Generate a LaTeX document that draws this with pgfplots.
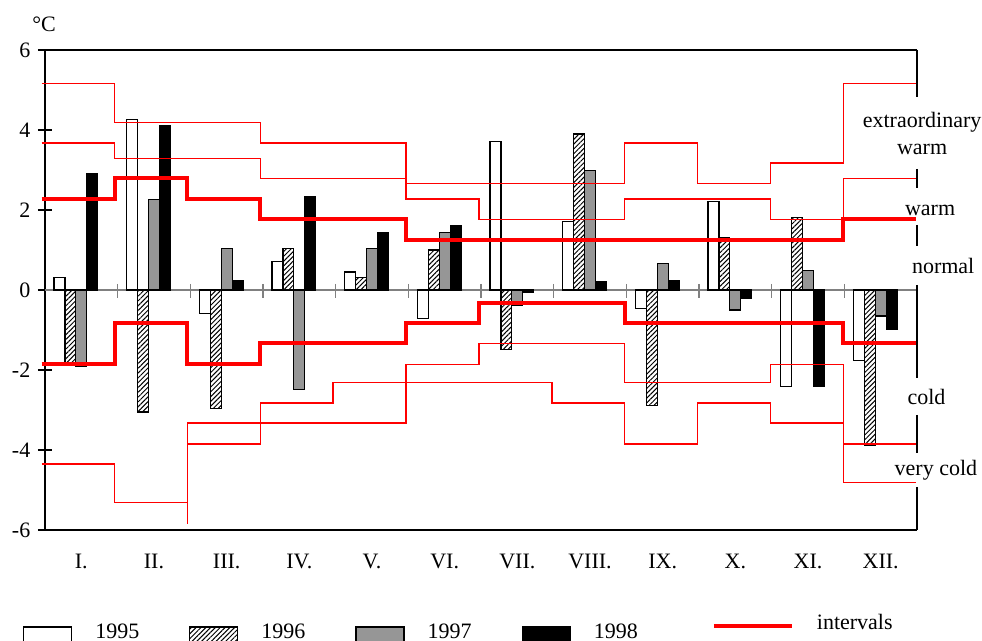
\documentclass[border=0pt]{standalone}
\usepackage{fontspec}
\setmainfont{Liberation Serif}
\usepackage{pgfplots}
\pgfplotsset{compat=1.18}
\usetikzlibrary{patterns.meta}

\definecolor{bargray}{RGB}{150,150,150}
\definecolor{zerogray}{RGB}{128,128,128}

\newcommand{\chartfont}{\fontsize{11pt}{13.5pt}\selectfont}

\pgfplotsset{
  barlegend/.style={legend image code/.code={\draw[##1] (0pt,-5.5pt) rectangle (24pt,3pt);}},
  linelegend/.style={legend image code/.code={\path (0pt,0pt); \draw[##1] (12pt,3.5pt) -- (51pt,3.5pt);}},
}

\begin{document}
\chartfont
\begin{tikzpicture}
\useasboundingbox (-22.5pt,-55.5pt) rectangle (468.5pt,265pt);
\clip (-22.5pt,-55.5pt) rectangle (468.5pt,265pt);
\begin{axis}[
  at={(0pt,0pt)}, anchor=south west,
  scale only axis,
  width=436pt, height=240pt,
  xmin=0.5, xmax=12.5, ymin=-6, ymax=6,
  axis x line=box, axis y line=left,
  axis line style={-, line width=0.9pt},
  clip=false,
  xtick={1,2,3,4,5,6,7,8,9,10,11,12},
  xticklabels={I.,II.,III.,IV.,V.,VI.,VII.,VIII.,IX.,X.,XI.,XII.},
  xtick style={draw=none},
  xticklabel style={font=\chartfont, yshift=-4.8pt},
  ytick={-6,-4,-2,0,2,4,6},
  yticklabels={-6,-4,-2,0,2,4,6},
  ytick style={line width=0.8pt, black},
  tick align=center,
  major tick length=7pt,
  yticklabel style={font=\chartfont},
  legend columns=5,
  legend style={draw=none, fill=none, font=\chartfont,
    at={(0,0)}, anchor=north west, xshift=-11.15pt, yshift=-41.7pt,
    inner sep=0pt,
    nodes={inner sep=0pt},
    /tikz/every odd column/.append style={column sep=11.5pt},
    /tikz/every even column/.append style={column sep=25pt}},
]

% zero line with month separators
\draw[zerogray, line width=0.65pt] (axis cs:0.5,0) -- (axis cs:12.5,0);
\pgfplotsinvokeforeach{1.5,2.5,3.5,4.5,5.5,6.5,7.5,8.5,9.5,10.5,11.5}{
  \draw[zerogray, line width=0.65pt] (axis cs:#1,0) ++(0pt,3pt) -- ++(0pt,-7pt);
}

% monthly temperature deviations
\addplot[ybar, bar width=0.15, bar shift=-0.3, draw=black, fill=white, line width=0.6pt, barlegend]
  coordinates {(1,0.32) (2,4.27) (3,-0.58) (4,0.71) (5,0.45) (6,-0.71)
               (7,3.72) (8,1.71) (9,-0.46) (10,2.22) (11,-2.42) (12,-1.77)};
\addlegendentry{1995}
\addplot[ybar, bar width=0.15, bar shift=-0.15, draw=black, line width=0.6pt,
  pattern={Lines[angle=45, distance=1.7pt, line width=0.5pt]}, barlegend]
  coordinates {(1,-1.88) (2,-3.05) (3,-2.97) (4,1.03) (5,0.32) (6,1.0)
               (7,-1.49) (8,3.9) (9,-2.88) (10,1.31) (11,1.81) (12,-3.88)};
\addlegendentry{1996}
\addplot[ybar, bar width=0.15, bar shift=0, draw=black, fill=bargray, line width=0.6pt, barlegend]
  coordinates {(1,-1.9) (2,2.27) (3,1.03) (4,-2.48) (5,1.03) (6,1.43)
               (7,-0.375) (8,2.99) (9,0.67) (10,-0.5) (11,0.48) (12,-0.65)};
\addlegendentry{1997}
\addplot[ybar, bar width=0.15, bar shift=0.15, draw=black, fill=black, line width=0.6pt, barlegend]
  coordinates {(1,2.92) (2,4.11) (3,0.24) (4,2.33) (5,1.43) (6,1.6)
               (7,-0.07) (8,0.2) (9,0.24) (10,-0.21) (11,-2.42) (12,-0.98)};
\addlegendentry{1998}

% interval boundaries
\addplot[red, line width=2pt, const plot, linelegend]
  coordinates {(0.454,2.27) (1.457,2.79) (2.460,2.27) (3.463,1.77) (4.466,1.77) (5.469,1.25)
               (6.472,1.25) (7.475,1.25) (8.478,1.25) (9.481,1.25) (10.484,1.25) (11.487,1.77) (12.490,1.77)};
\addlegendentry[yshift=5pt]{intervals}
\addplot[red, line width=2pt, const plot, forget plot]
  coordinates {(0.454,-1.85) (1.457,-0.82) (2.460,-1.85) (3.463,-1.33) (4.466,-1.33) (5.469,-0.82)
               (6.472,-0.32) (7.475,-0.32) (8.478,-0.82) (9.481,-0.82) (10.484,-0.82) (11.487,-1.33) (12.490,-1.33)};
\addplot[red, line width=0.7pt, const plot, forget plot]
  coordinates {(0.454,5.16) (1.457,4.18) (2.460,4.18) (3.463,3.675) (4.466,3.675) (5.469,2.66)
               (6.472,2.66) (7.475,2.66) (8.478,3.675) (9.481,2.66) (10.484,3.17) (11.487,5.16) (12.490,5.16)};
\addplot[red, line width=0.7pt, const plot, forget plot]
  coordinates {(0.454,3.675) (1.457,3.29) (2.460,3.29) (3.463,2.78) (4.466,2.78) (5.469,2.27)
               (6.472,1.76) (7.475,1.76) (8.478,2.27) (9.481,2.27) (10.484,1.76) (11.487,2.79) (12.490,2.79)};
\addplot[red, line width=0.7pt, const plot, forget plot]
  coordinates {(0.454,-4.35) (1.457,-5.32) (2.460,-3.85) (3.463,-2.83) (4.466,-2.32) (5.469,-2.32)
               (6.472,-2.32) (7.475,-2.83) (8.478,-3.85) (9.481,-2.83) (10.484,-3.33) (11.487,-4.82) (12.490,-4.82)};
\addplot[red, line width=0.7pt, const plot, forget plot]
  coordinates {(2.460,-5.85) (2.460,-3.33) (3.463,-3.33) (4.466,-3.33) (5.469,-1.86)
               (6.472,-1.34) (7.475,-1.34) (8.478,-2.32) (9.481,-2.32) (10.484,-1.86) (11.487,-3.85) (12.490,-3.85)};

% right frame, interrupted by the class names
\draw[line width=0.9pt] (axis cs:12.5,6) -- (axis cs:12.5,4.83);
\draw[line width=0.9pt] (axis cs:12.5,3.025) -- (axis cs:12.5,2.54);
\draw[line width=0.9pt] (axis cs:12.5,1.625) -- (axis cs:12.5,1.1);
\draw[line width=0.9pt] (axis cs:12.5,0.125) -- (axis cs:12.5,-2.21);
\draw[line width=0.9pt] (axis cs:12.5,-3.125) -- (axis cs:12.5,-4.08);
\draw[line width=0.9pt] (axis cs:12.5,-4.92) -- (axis cs:12.5,-6);

\node[anchor=base, inner sep=0pt] at (axis cs:12.57,4.05) {extraordinary};
\node[anchor=base, inner sep=0pt] at (axis cs:12.57,3.375) {warm};
\node[anchor=base, inner sep=0pt] at (axis cs:12.68,1.87) {warm};
\node[anchor=base, inner sep=0pt] at (axis cs:12.86,0.41) {normal};
\node[anchor=base, inner sep=0pt] at (axis cs:12.63,-2.87) {cold};
\node[anchor=base, inner sep=0pt] at (axis cs:12.76,-4.64) {very cold};

\node[anchor=base, inner sep=0pt, xshift=-0.5pt, yshift=9pt] at (rel axis cs:0,1) {°C};
\end{axis}
\end{tikzpicture}
\end{document}
